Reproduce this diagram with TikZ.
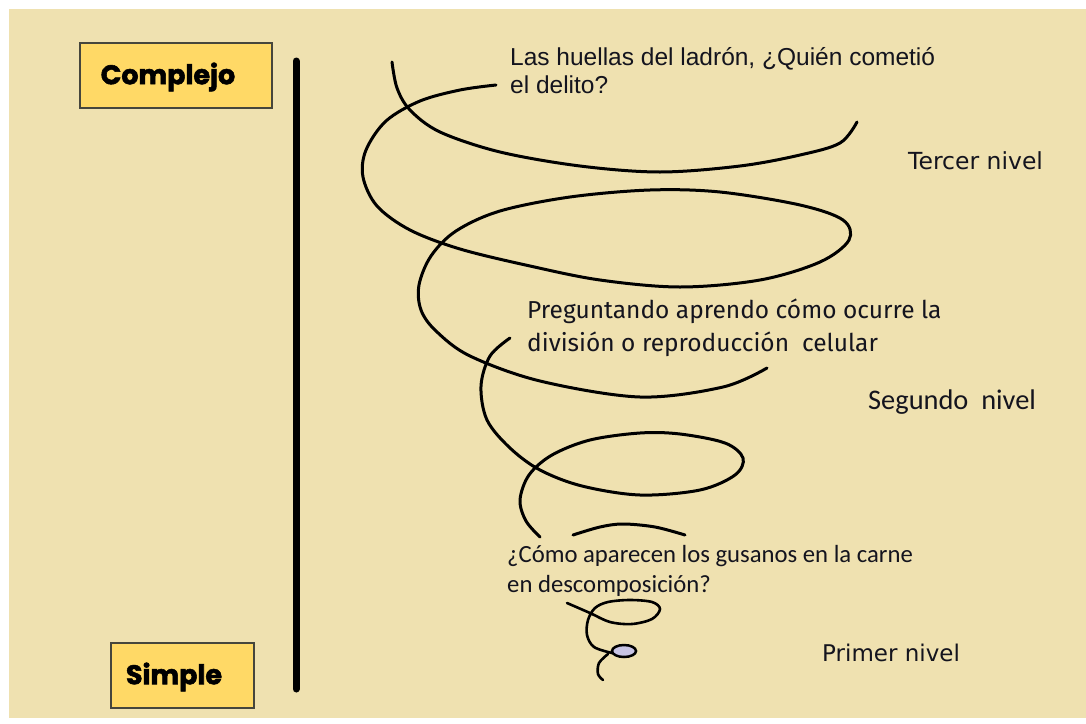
\documentclass[tikz,border=0pt]{standalone}
\usepackage{fontspec}
\newfontfamily\arialf{Liberation Sans}
\newfontfamily\verdf{DejaVu Sans}
\newfontfamily\calf{Carlito}
\newfontfamily\comicf{Fira Sans}
\newfontfamily\heavyf{Poppins}[FakeBold=2]
\definecolor{bgbeige}{RGB}{239,225,176}
\definecolor{boxyellow}{RGB}{255,217,102}
\definecolor{boxedge}{RGB}{70,70,60}
\definecolor{txtdark}{RGB}{20,20,30}
\definecolor{lavender}{RGB}{200,196,228}
\tikzset{
  spiral/.style={line width=3pt, line cap=round, black, smooth, tension=0.55},
  levelbox/.style={draw=boxedge, line width=1.2pt, fill=boxyellow, inner sep=0pt},
  boxtext/.style={font=\heavyf\bfseries\fontsize{27}{30}\selectfont, text=black},
  leveltext/.style={anchor=west, inner sep=0pt, text=txtdark},
  qtext/.style={anchor=west, inner sep=0pt, align=left, text=txtdark}
}
\begin{document}
\begin{tikzpicture}[x=1pt,y=-1pt]
\useasboundingbox (0,0) rectangle (1086,723);
\fill[white] (0,0) rectangle (1086,723);
\fill[bgbeige] (9,9) rectangle (1086,718);

% level boxes
\node[levelbox, minimum width=192pt, minimum height=65pt] (complejo) at (176,75.5) {};
\node[boxtext] (complejolbl) at (168,77) {Complejo};
\node[levelbox, minimum width=143pt, minimum height=65pt] (simple) at (182.5,675.5) {};
\node[boxtext] (simplelbl) at (174,677) {Simple};

% vertical axis
\coordinate (axtop) at (296,61);
\coordinate (axbot) at (296,689);
\draw[line width=7pt, line cap=round] (axtop) -- (axbot);

% spiral
\draw[spiral] plot coordinates {(392,62) (397,88) (410,110) (440,132) (500,152) (580,166) (660,172) (740,166) (800,155) (840,143) (857,122)};
\draw[spiral] plot coordinates {(496,85) (460,90) (420,101) (386,121) (366,150) (363,177) (377,206) (410,230) (460,249) (530,266) (600,280) (680,287) (760,280) (820,262) (849,240) (843,220) (800,205) (720,192) (650,190) (570,197) (500,211) (456,231) (431,256) (419,285) (421,310) (436,331) (470,356) (540,381) (640,397) (723,387) (767,368)};
\draw[spiral] plot coordinates {(510,338) (490,356) (481,386) (487,420) (510,448) (540,470) (582,486) (640,495) (700,490) (735,475) (743,458) (725,443) (680,434) (640,433) (590,440) (552,455) (529,475) (520,500) (526,521) (540,537)};
\draw[spiral] plot coordinates {(573,535) (600,527) (623,524) (655,527) (685,535)};
\draw[spiral, line width=2.6pt] plot coordinates {(567,603) (590,613) (610,622) (632,624) (652,619) (660,609) (652,602) (630,600) (608,602) (595,608) (588,620) (587,635) (594,647) (612,653)};
\draw[spiral, line width=2.6pt] plot coordinates {(608,654) (599,663) (598,674) (603,680)};
\draw[line width=2.5pt, fill=lavender] (624,651) ellipse [x radius=12, y radius=6];

% texts
\node[qtext, font=\arialf\fontsize{24.5}{28}\selectfont] (q3) at (510,71) {Las huellas del ladrón, ¿Quién cometió\\el delito?};
\node[leveltext, font=\verdf\fontsize{23.5}{24}\selectfont] (l3) at (908,161) {Tercer nivel};
\node[qtext, font=\comicf\fontsize{24.5}{33}\selectfont] (q2) at (527,328) {Preguntando aprendo cómo ocurre la\\división o reproducción~ celular};
\node[leveltext, font=\calf\fontsize{28.4}{30}\selectfont] (l2) at (868,402) {Segundo~ nivel};
\node[qtext, font=\calf\fontsize{24.7}{30}\selectfont] (q1) at (507,571) {¿Cómo aparecen los gusanos en la carne\\en descomposición?};
\node[leveltext, font=\verdf\fontsize{23}{24}\selectfont] (l1) at (822,653) {Primer nivel};
\end{tikzpicture}
\end{document}
